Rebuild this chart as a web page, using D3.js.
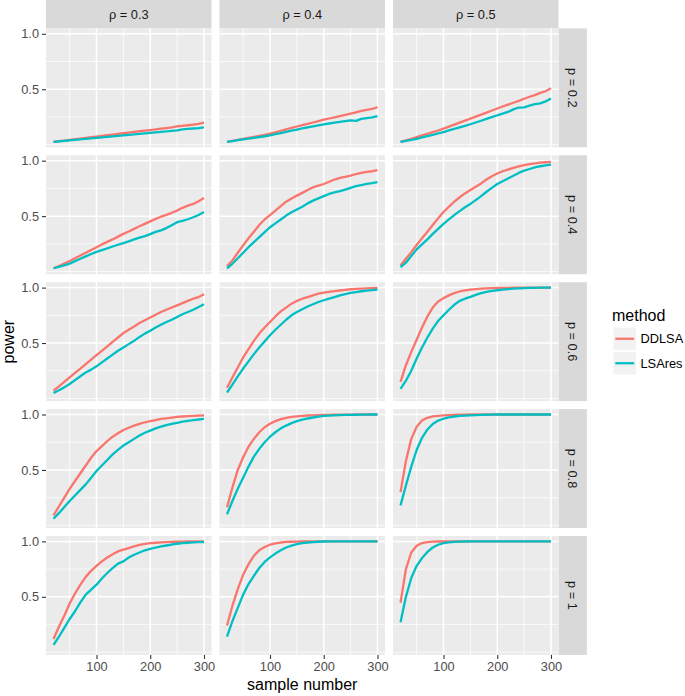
<!DOCTYPE html>
<html><head><meta charset="utf-8">
<script src="https://cdn.jsdelivr.net/npm/d3@7"></script>
<style>
body{margin:0;background:#fff}
text{font-family:"Liberation Sans",Arial,Helvetica,sans-serif}
</style>
</head><body>
<svg id="chart" width="685" height="696"></svg>
<script>
// ---------------- data ----------------
const sampleNumbers=[20,30,40,50,60,70,80,90,100,110,120,130,140,150,160,170,180,190,200,210,220,230,240,250,260,270,280,290,300];
const rhoLevels=["0.3","0.4","0.5"];
const pLevels=["0.2","0.4","0.6","0.8","1"];
const methods=["DDLSA","LSAres"];
const methodColors=["#F8766D","#00BFC4"];
const xTicks=[100,200,300];
const xMinorTicks=[50,150,250];
const yTicks=[0.5,1.0];
const yTickLabels=["0.5","1.0"];
const yMinorTicks=[0,0.25,0.75];

// p = 0.2
const ddlsa_p02_r03=[0.025,0.031,0.037,0.043,0.049,0.055,0.061,0.067,0.073,0.079,0.085,0.091,0.097,0.103,0.109,0.115,0.121,0.127,0.132,0.138,0.144,0.150,0.156,0.166,0.170,0.175,0.181,0.188,0.199];
const lsares_p02_r03=[0.025,0.030,0.034,0.039,0.043,0.048,0.052,0.057,0.061,0.066,0.070,0.075,0.080,0.084,0.089,0.093,0.098,0.102,0.107,0.111,0.116,0.120,0.125,0.129,0.138,0.142,0.146,0.150,0.156];
const ddlsa_p02_r04=[0.025,0.034,0.043,0.052,0.061,0.070,0.079,0.089,0.099,0.112,0.125,0.138,0.151,0.164,0.176,0.188,0.200,0.212,0.225,0.236,0.247,0.258,0.269,0.280,0.292,0.305,0.314,0.322,0.338];
const lsares_p02_r04=[0.025,0.032,0.040,0.048,0.055,0.062,0.069,0.076,0.084,0.094,0.105,0.115,0.126,0.136,0.146,0.155,0.165,0.174,0.184,0.191,0.198,0.205,0.212,0.220,0.214,0.232,0.239,0.246,0.258];
const ddlsa_p02_r05=[0.025,0.039,0.053,0.068,0.083,0.098,0.113,0.128,0.145,0.163,0.181,0.199,0.217,0.235,0.253,0.271,0.289,0.308,0.326,0.344,0.361,0.378,0.395,0.414,0.432,0.447,0.467,0.482,0.510];
const lsares_p02_r05=[0.025,0.034,0.043,0.053,0.065,0.077,0.089,0.101,0.114,0.128,0.142,0.156,0.170,0.184,0.200,0.216,0.232,0.248,0.265,0.280,0.295,0.318,0.335,0.337,0.352,0.365,0.372,0.390,0.416];
// p = 0.4
const ddlsa_p04_r03=[0.030,0.050,0.072,0.095,0.120,0.145,0.170,0.195,0.220,0.245,0.268,0.290,0.315,0.340,0.362,0.385,0.408,0.430,0.453,0.475,0.495,0.512,0.530,0.550,0.575,0.595,0.610,0.635,0.664];
const lsares_p04_r03=[0.030,0.043,0.056,0.072,0.094,0.115,0.137,0.158,0.178,0.194,0.210,0.226,0.242,0.257,0.273,0.290,0.306,0.320,0.338,0.358,0.372,0.392,0.418,0.445,0.458,0.472,0.490,0.510,0.537];
const ddlsa_p04_r04=[0.050,0.100,0.170,0.236,0.300,0.360,0.420,0.470,0.510,0.550,0.590,0.630,0.660,0.685,0.710,0.735,0.760,0.775,0.790,0.810,0.830,0.845,0.855,0.865,0.880,0.890,0.900,0.905,0.915];
const lsares_p04_r04=[0.030,0.070,0.120,0.170,0.220,0.265,0.310,0.355,0.400,0.435,0.470,0.505,0.535,0.560,0.585,0.615,0.640,0.660,0.680,0.700,0.715,0.725,0.740,0.755,0.770,0.780,0.790,0.797,0.806];
const ddlsa_p04_r05=[0.054,0.115,0.175,0.240,0.300,0.360,0.420,0.480,0.537,0.585,0.630,0.670,0.705,0.735,0.765,0.795,0.830,0.860,0.884,0.905,0.920,0.935,0.948,0.960,0.970,0.975,0.983,0.986,0.990];
const lsares_p04_r05=[0.040,0.080,0.140,0.200,0.245,0.290,0.340,0.385,0.430,0.470,0.510,0.545,0.580,0.610,0.645,0.680,0.720,0.755,0.790,0.815,0.840,0.865,0.890,0.910,0.925,0.940,0.950,0.958,0.965];
// p = 0.6
const ddlsa_p06_r03=[0.070,0.110,0.150,0.190,0.230,0.270,0.310,0.350,0.390,0.430,0.470,0.510,0.550,0.590,0.620,0.650,0.680,0.705,0.730,0.755,0.780,0.800,0.820,0.840,0.860,0.880,0.900,0.915,0.940];
const lsares_p06_r03=[0.050,0.075,0.100,0.130,0.165,0.200,0.235,0.260,0.290,0.325,0.360,0.395,0.430,0.460,0.490,0.520,0.555,0.585,0.610,0.640,0.665,0.690,0.710,0.735,0.760,0.780,0.800,0.825,0.850];
const ddlsa_p06_r04=[0.096,0.190,0.280,0.370,0.445,0.520,0.585,0.640,0.690,0.740,0.785,0.820,0.855,0.880,0.900,0.915,0.930,0.945,0.955,0.962,0.968,0.974,0.980,0.985,0.988,0.991,0.993,0.995,0.997];
const lsares_p06_r04=[0.054,0.125,0.200,0.270,0.335,0.400,0.460,0.515,0.570,0.620,0.665,0.710,0.750,0.780,0.805,0.830,0.850,0.870,0.886,0.900,0.915,0.930,0.942,0.952,0.960,0.967,0.973,0.978,0.982];
const ddlsa_p06_r05=[0.150,0.300,0.420,0.530,0.640,0.740,0.820,0.875,0.905,0.930,0.950,0.965,0.975,0.982,0.987,0.990,0.993,0.995,0.997,0.998,0.998,0.999,0.999,0.999,1,1,1,1,1];
const lsares_p06_r05=[0.087,0.160,0.250,0.360,0.460,0.550,0.630,0.700,0.750,0.800,0.845,0.880,0.900,0.916,0.935,0.950,0.962,0.970,0.976,0.982,0.986,0.990,0.993,0.995,0.997,0.998,0.999,0.999,1];
// p = 0.8
const ddlsa_p08_r03=[0.090,0.170,0.250,0.330,0.400,0.470,0.540,0.610,0.670,0.715,0.760,0.800,0.830,0.860,0.880,0.900,0.915,0.930,0.940,0.950,0.960,0.966,0.972,0.978,0.982,0.985,0.988,0.990,0.992];
const lsares_p08_r03=[0.060,0.110,0.165,0.220,0.270,0.320,0.370,0.430,0.490,0.540,0.590,0.640,0.680,0.720,0.750,0.780,0.810,0.835,0.855,0.875,0.890,0.905,0.915,0.925,0.935,0.943,0.950,0.955,0.960];
const ddlsa_p08_r04=[0.163,0.340,0.500,0.615,0.710,0.780,0.840,0.885,0.917,0.940,0.958,0.970,0.978,0.983,0.988,0.991,0.993,0.995,0.996,0.997,0.998,0.998,0.999,0.999,1,1,1,1,1];
const lsares_p08_r04=[0.100,0.220,0.330,0.430,0.530,0.620,0.690,0.750,0.800,0.840,0.875,0.900,0.922,0.940,0.953,0.964,0.973,0.981,0.987,0.990,0.993,0.995,0.996,0.997,0.998,0.999,0.999,1,1];
const ddlsa_p08_r05=[0.300,0.580,0.780,0.890,0.945,0.970,0.983,0.988,0.992,0.995,0.997,0.998,0.999,1,1,1,1,1,1,1,1,1,1,1,1,1,1,1,1];
const lsares_p08_r05=[0.180,0.360,0.530,0.680,0.790,0.865,0.915,0.945,0.962,0.974,0.982,0.987,0.990,0.993,0.995,0.997,0.998,0.999,1,1,1,1,1,1,1,1,1,1,1];
// p = 1
const ddlsa_p10_r03=[0.120,0.230,0.330,0.440,0.530,0.610,0.680,0.735,0.780,0.820,0.855,0.885,0.910,0.926,0.940,0.955,0.968,0.978,0.985,0.988,0.991,0.993,0.995,0.997,0.998,0.999,0.999,1,1];
const lsares_p10_r03=[0.067,0.140,0.220,0.300,0.370,0.450,0.520,0.565,0.610,0.665,0.715,0.760,0.800,0.820,0.855,0.880,0.900,0.920,0.933,0.945,0.955,0.963,0.972,0.979,0.984,0.988,0.991,0.993,0.994];
const ddlsa_p10_r04=[0.242,0.420,0.570,0.700,0.795,0.870,0.920,0.950,0.970,0.982,0.990,0.995,0.997,0.998,0.999,1,1,1,1,1,1,1,1,1,1,1,1,1,1];
const lsares_p10_r04=[0.140,0.280,0.400,0.520,0.615,0.690,0.760,0.815,0.856,0.890,0.920,0.945,0.962,0.975,0.985,0.990,0.994,0.997,0.999,1,1,1,1,1,1,1,1,1,1];
const ddlsa_p10_r05=[0.447,0.750,0.900,0.960,0.985,0.994,0.998,0.999,1,1,1,1,1,1,1,1,1,1,1,1,1,1,1,1,1,1,1,1,1];
const lsares_p10_r05=[0.270,0.500,0.670,0.780,0.850,0.905,0.945,0.970,0.985,0.992,0.996,0.998,0.999,1,1,1,1,1,1,1,1,1,1,1,1,1,1,1,1];

// lookup: [row p][col rho] -> [DDLSA, LSAres]
const panelSeries=[
  [[ddlsa_p02_r03,lsares_p02_r03],[ddlsa_p02_r04,lsares_p02_r04],[ddlsa_p02_r05,lsares_p02_r05]],
  [[ddlsa_p04_r03,lsares_p04_r03],[ddlsa_p04_r04,lsares_p04_r04],[ddlsa_p04_r05,lsares_p04_r05]],
  [[ddlsa_p06_r03,lsares_p06_r03],[ddlsa_p06_r04,lsares_p06_r04],[ddlsa_p06_r05,lsares_p06_r05]],
  [[ddlsa_p08_r03,lsares_p08_r03],[ddlsa_p08_r04,lsares_p08_r04],[ddlsa_p08_r05,lsares_p08_r05]],
  [[ddlsa_p10_r03,lsares_p10_r03],[ddlsa_p10_r04,lsares_p10_r04],[ddlsa_p10_r05,lsares_p10_r05]]
];

// ---------------- layout ----------------
const L={left:46, top:28.4, panelW:165.5, panelH:118.9, gap:8, strip:28.4};
const smallFont=12.8, titleFont=16;
const svg=d3.select("#chart");

const xExt=d3.extent(sampleNumbers);
const xPad=(xExt[1]-xExt[0])*0.05;
const x=d3.scaleLinear().domain([xExt[0]-xPad,xExt[1]+xPad]).range([0,L.panelW]);
const allY=panelSeries.flat(2).flat();
const yExt=d3.extent(allY);
const yPad=(yExt[1]-yExt[0])*0.05;
const y=d3.scaleLinear().domain([yExt[0]-yPad,yExt[1]+yPad]).range([L.panelH,0]);

const line=d3.line().x((d,i)=>x(sampleNumbers[i])).y(d=>y(d));

const colX=c=>L.left+c*(L.panelW+L.gap);
const rowY=r=>L.top+r*(L.panelH+L.gap);

// top strips
rhoLevels.forEach((rho,c)=>{
  const g=svg.append("g").attr("transform",`translate(${colX(c)},0)`);
  g.append("rect").attr("width",L.panelW).attr("height",L.strip).attr("fill","#D9D9D9");
  g.append("text").attr("x",L.panelW/2).attr("y",L.strip/2).attr("dy","0.36em")
    .attr("text-anchor","middle").attr("font-size",smallFont).attr("fill","#1A1A1A")
    .text(`ρ = ${rho}`);
});
// right strips
const stripX=colX(rhoLevels.length-1)+L.panelW;
pLevels.forEach((p,r)=>{
  const g=svg.append("g").attr("transform",`translate(${stripX},${rowY(r)})`);
  g.append("rect").attr("width",L.strip).attr("height",L.panelH).attr("fill","#D9D9D9");
  g.append("text").attr("transform",`translate(${L.strip/2},${L.panelH/2}) rotate(90)`)
    .attr("dy","0.36em").attr("text-anchor","middle").attr("font-size",smallFont).attr("fill","#1A1A1A")
    .text(`p = ${p}`);
});

// panels
pLevels.forEach((p,r)=>{
  rhoLevels.forEach((rho,c)=>{
    const g=svg.append("g").attr("transform",`translate(${colX(c)},${rowY(r)})`);
    g.append("rect").attr("width",L.panelW).attr("height",L.panelH).attr("fill","#EBEBEB");
    // minor grid
    g.selectAll(".ymin").data(yMinorTicks).join("line")
      .attr("x1",0).attr("x2",L.panelW).attr("y1",d=>y(d)).attr("y2",d=>y(d))
      .attr("stroke","#fff").attr("stroke-width",0.75);
    g.selectAll(".xmin").data(xMinorTicks).join("line").attr("class","xmin")
      .attr("y1",0).attr("y2",L.panelH).attr("x1",d=>x(d)).attr("x2",d=>x(d))
      .attr("stroke","#fff").attr("stroke-width",0.75);
    // major grid
    g.selectAll(".ymaj").data(yTicks).join("line").attr("class","ymaj")
      .attr("x1",0).attr("x2",L.panelW).attr("y1",d=>y(d)).attr("y2",d=>y(d))
      .attr("stroke","#fff").attr("stroke-width",1.5);
    g.selectAll(".xmaj").data(xTicks).join("line").attr("class","xmaj")
      .attr("y1",0).attr("y2",L.panelH).attr("x1",d=>x(d)).attr("x2",d=>x(d))
      .attr("stroke","#fff").attr("stroke-width",1.5);
    // lines
    panelSeries[r][c].forEach((vals,m)=>{
      g.append("path").datum(vals).attr("d",line).attr("fill","none")
        .attr("stroke",methodColors[m]).attr("stroke-width",2.3)
        .attr("stroke-linejoin","round");
    });
    // left axis
    if(c===0){
      const ax=g.append("g").call(d3.axisLeft(y).tickValues(yTicks).tickFormat((d,i)=>yTickLabels[i]).tickSize(4).tickPadding(3));
      ax.select(".domain").remove();
      ax.selectAll("line").attr("stroke","#333333").attr("stroke-width",1.1);
      ax.selectAll("text").attr("fill","#4D4D4D").attr("font-size",smallFont)
        .attr("font-family",'"Liberation Sans",Arial,Helvetica,sans-serif');
    }
    if(r===pLevels.length-1){
      const ax=g.append("g").attr("transform",`translate(0,${L.panelH})`)
        .call(d3.axisBottom(x).tickValues(xTicks).tickFormat(d3.format("d")).tickSize(4).tickPadding(3));
      ax.select(".domain").remove();
      ax.selectAll("line").attr("stroke","#333333").attr("stroke-width",1.1);
      ax.selectAll("text").attr("fill","#4D4D4D").attr("font-size",smallFont)
        .attr("font-family",'"Liberation Sans",Arial,Helvetica,sans-serif');
    }
  });
});

// axis titles
const plotBottom=rowY(pLevels.length-1)+L.panelH;
const plotRight=colX(rhoLevels.length-1)+L.panelW;
svg.append("text").attr("x",(L.left+plotRight)/2).attr("y",plotBottom+35.5)
  .attr("text-anchor","middle").attr("font-size",titleFont).attr("fill","#000").text("sample number");
svg.append("text").attr("transform",`translate(13.5,${(L.top+plotBottom)/2}) rotate(-90)`)
  .attr("text-anchor","middle").attr("font-size",titleFont).attr("fill","#000").text("power");

// legend
const lg=svg.append("g").attr("transform","translate(612,0)");
lg.append("text").attr("x",0).attr("y",321).attr("font-size",titleFont).attr("fill","#000").text("method");
methods.forEach((m,i)=>{
  const ky=327+i*24.5;
  lg.append("rect").attr("x",1).attr("y",ky).attr("width",23.5).attr("height",23.5)
    .attr("fill","#F2F2F2").attr("stroke","#fff").attr("stroke-width",1);
  lg.append("line").attr("x1",3.3).attr("x2",22.2).attr("y1",ky+11.75).attr("y2",ky+11.75)
    .attr("stroke",methodColors[i]).attr("stroke-width",2.3);
  lg.append("text").attr("x",28.5).attr("y",ky+11.75).attr("dy","0.36em")
    .attr("font-size",smallFont).attr("fill","#000").text(m);
});
</script>
</body></html>
